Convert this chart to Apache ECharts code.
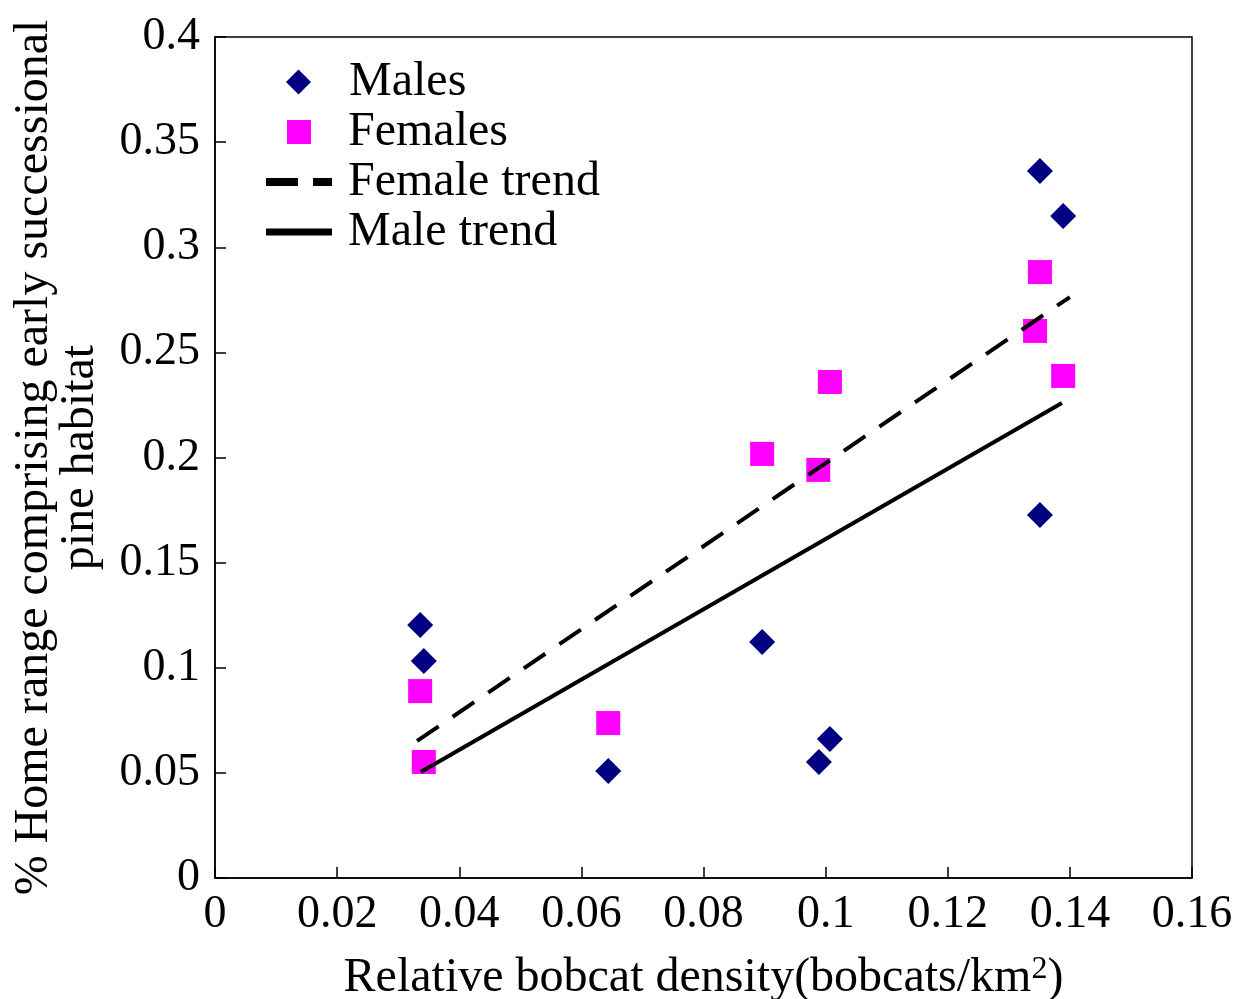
<!DOCTYPE html>
<html>
<head>
<meta charset="utf-8">
<script src="https://cdn.jsdelivr.net/npm/echarts@6/dist/echarts.min.js"></script>
<style>html,body{margin:0;padding:0;background:#fff}#c{width:1241px;height:999px}</style>
</head>
<body>
<div id="c"></div>
<script>
const males = [
  [0.0336, 0.1203], [0.0342, 0.1032], [0.0644, 0.0509], [0.0896, 0.1122],
  [0.0989, 0.0552], [0.1007, 0.0661], [0.1351, 0.3363], [0.1389, 0.3149], [0.1351, 0.1727]
];
const females = [
  [0.0336, 0.0889], [0.0342, 0.0552], [0.0644, 0.0737], [0.0896, 0.2017],
  [0.0988, 0.1941], [0.1007, 0.2359], [0.1351, 0.2882], [0.1343, 0.2602], [0.1389, 0.2388]
];
const femaleTrend = [[0.0331, 0.0652], [0.1400, 0.2763]];
const maleTrend = [[0.0337, 0.0504], [0.1387, 0.2259]];
const xTickLabels = ['0', '0.02', '0.04', '0.06', '0.08', '0.1', '0.12', '0.14', '0.16'];
const yTickLabels = ['0', '0.05', '0.1', '0.15', '0.2', '0.25', '0.3', '0.35', '0.4'];
const seriesNames = ['Males', 'Females', 'Female trend', 'Male trend'];

const FONT = '"Liberation Serif", "DejaVu Serif", serif';
const legendText = {fontFamily: FONT, fontSize: 48, color: '#000', lineHeight: 50};
function legendFor(name, opts) {
  return Object.assign({
    orient: 'vertical', padding: 0, selectedMode: false,
    data: [Object.assign({name: name}, opts.item || {})],
    textStyle: Object.assign({}, legendText, {padding: [0, 0, 0, opts.textPad]})
  }, opts.box);
}
const chart = echarts.init(document.getElementById('c'), null, {renderer: 'canvas'});
chart.setOption({
  animation: false,
  backgroundColor: '#fff',
  grid: {left: 215, right: 49, top: 37, bottom: 121, containLabel: false, outerBoundsMode: 'none',
    show: true, borderColor: '#000', borderWidth: 1.5, backgroundColor: 'transparent'},
  legend: [
    legendFor(seriesNames[0], {box: {left: 286, top: 57, itemWidth: 25, itemHeight: 25}, textPad: 33,
      item: {icon: 'diamond'}}),
    legendFor(seriesNames[1], {box: {left: 287, top: 107, itemWidth: 24, itemHeight: 24}, textPad: 32,
      item: {icon: 'rect'}}),
    legendFor(seriesNames[2], {box: {left: 266, top: 157, itemWidth: 66, itemHeight: 24}, textPad: 11,
      item: {icon: 'path://M0,0 L32,0 L32,8 L0,8 Z M47,0 L66,0 L66,8 L47,8 Z', itemStyle: {color: '#000'}}}),
    legendFor(seriesNames[3], {box: {left: 266, top: 207, itemWidth: 66, itemHeight: 24}, textPad: 11,
      item: {icon: 'path://M0,0 L66,0 L66,7 L0,7 Z', itemStyle: {color: '#000'}}})
  ],
  xAxis: {
    type: 'value', min: 0, max: 0.16, interval: 0.02,
    name: 'Relative bobcat density(bobcats/km{sup|2})', nameLocation: 'middle', nameGap: 76,
    nameTextStyle: {fontFamily: FONT, fontSize: 48, color: '#000',
      rich: {sup: {fontFamily: FONT, fontSize: 32, color: '#000', verticalAlign: 'top', padding: [0, 0, 14, 0]}}},
    axisLine: {show: true, lineStyle: {color: '#000', width: 1.5}},
    axisTick: {show: true, inside: true, length: 11, lineStyle: {color: '#000', width: 1.5}},
    splitLine: {show: false},
    axisLabel: {fontFamily: FONT, fontSize: 46, color: '#000', margin: 14,
      formatter: (v) => xTickLabels[Math.round(v / 0.02)]}
  },
  yAxis: {
    type: 'value', min: 0, max: 0.4, interval: 0.05,
    name: '% Home range comprising early successional\npine habitat', nameLocation: 'middle', nameGap: 112,
    nameTextStyle: {fontFamily: FONT, fontSize: 48, color: '#000', lineHeight: 46},
    axisLine: {show: true, lineStyle: {color: '#000', width: 1.5}},
    axisTick: {show: true, inside: true, length: 11, lineStyle: {color: '#000', width: 1.5}},
    splitLine: {show: false},
    axisLabel: {fontFamily: FONT, fontSize: 46, color: '#000', margin: 15,
      formatter: (v) => yTickLabels[Math.round(v / 0.05)]}
  },
  series: [
    {name: 'Males', type: 'scatter', data: males, symbol: 'diamond', symbolSize: 26,
      itemStyle: {color: '#000080', opacity: 1}, z: 2},
    {name: 'Females', type: 'scatter', data: females, symbol: 'rect', symbolSize: 24,
      itemStyle: {color: '#ff00ff', opacity: 1}, z: 2},
    {name: 'Female trend', type: 'line', data: femaleTrend, symbol: 'none', z: 3,
      lineStyle: {color: '#000', width: 4, type: [26, 17]}, itemStyle: {color: '#000'}},
    {name: 'Male trend', type: 'line', data: maleTrend, symbol: 'none', z: 3,
      lineStyle: {color: '#000', width: 4}, itemStyle: {color: '#000'}}
  ]
});
</script>
</body>
</html>
